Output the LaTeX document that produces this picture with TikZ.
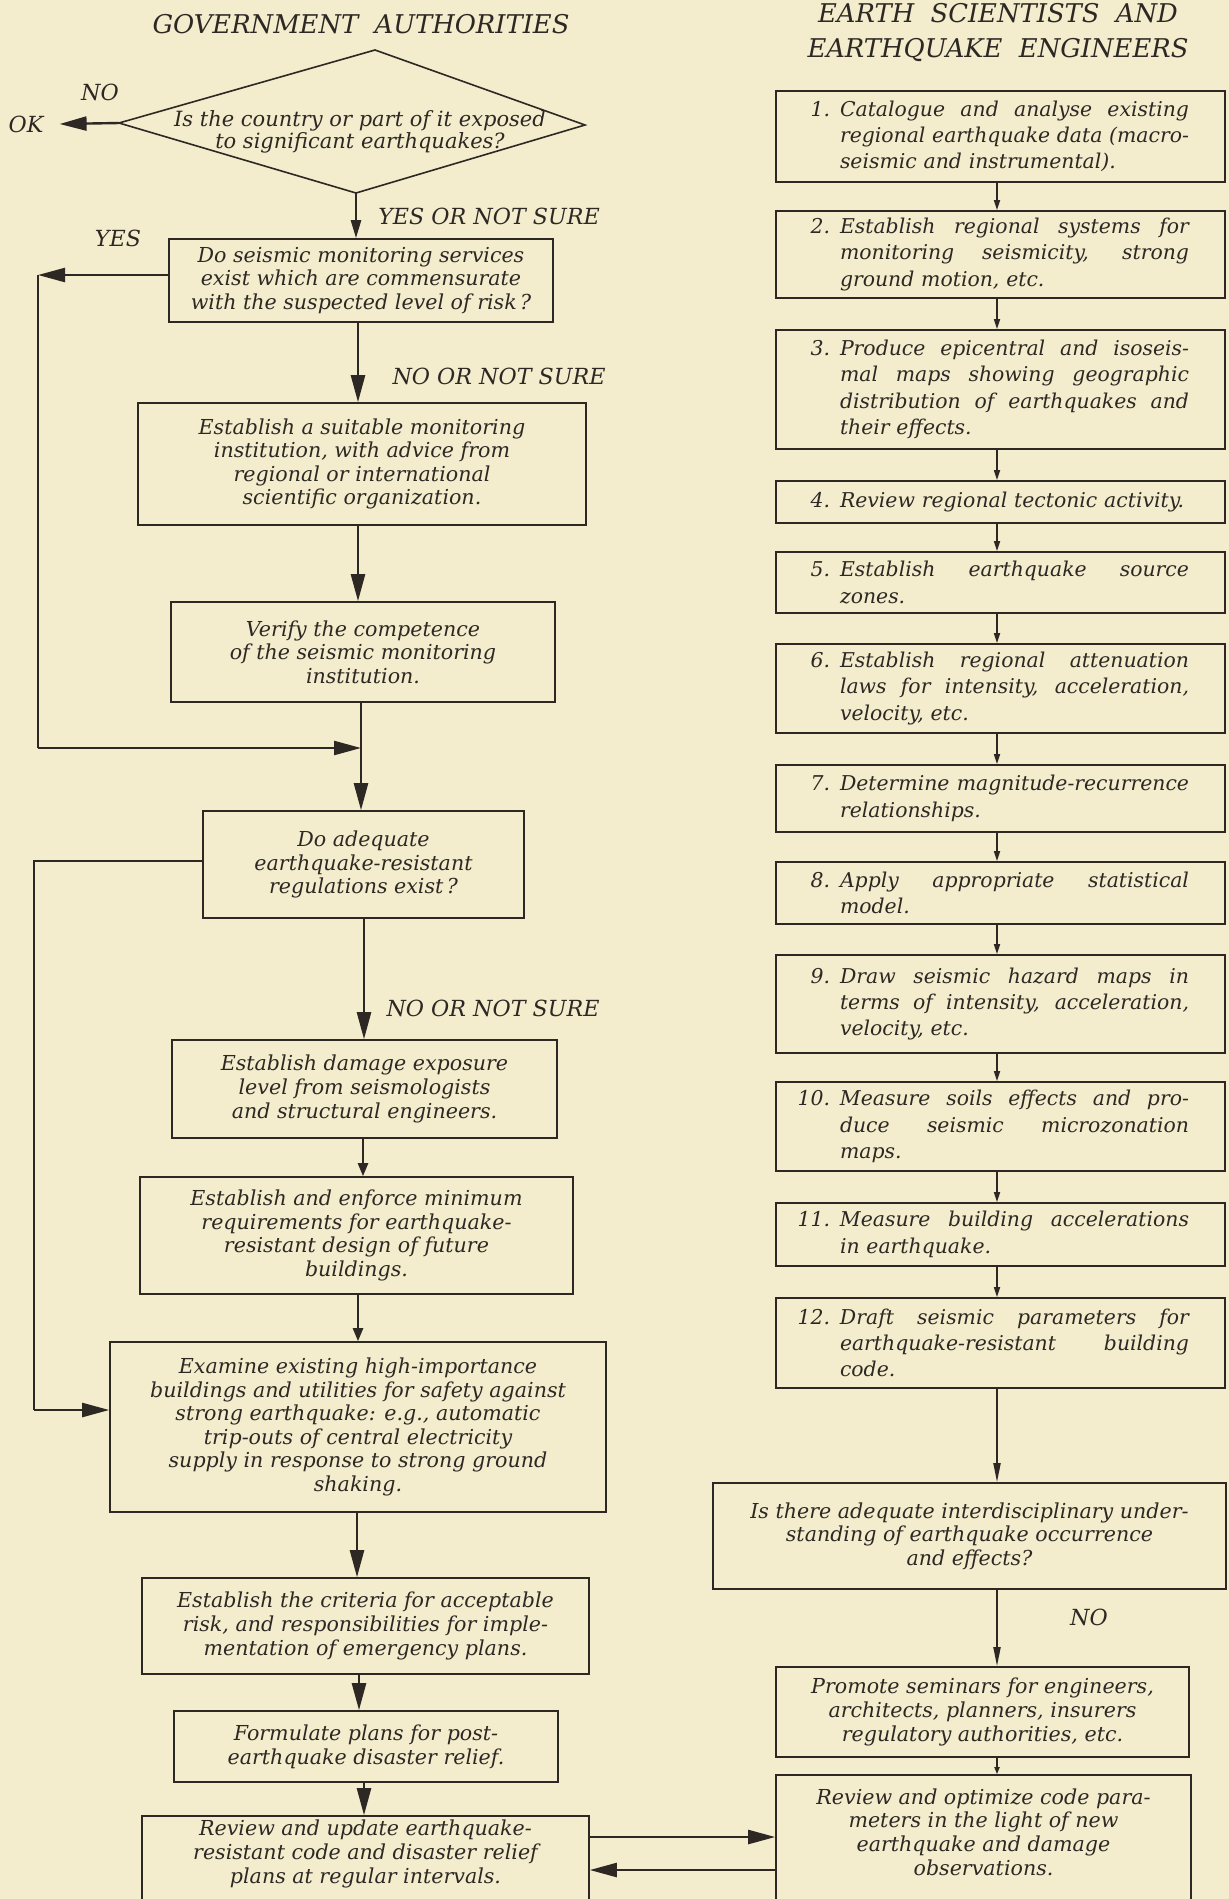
\documentclass[tikz,border=0pt]{standalone}
\usepackage{fontspec}
\setmainfont{DejaVu Serif}
\usetikzlibrary{arrows.meta}
\definecolor{bg}{RGB}{243,237,205}
\definecolor{ink}{RGB}{45,40,36}
\newcommand\myleftfont{\fontsize{20.6}{23.6}\selectfont\itshape}
\newcommand\mydiafont{\fontsize{21}{22}\selectfont\itshape}
\newcommand\myrightfont{\fontsize{20.4}{26.3}\selectfont\itshape}
\newcommand\mylabfont{\fontsize{22.2}{25}\selectfont\itshape}
\newcommand\mytitfont{\fontsize{25.8}{35}\selectfont\itshape}
\newcommand\jl[1]{\leavevmode\hbox to \linewidth{\spaceskip=0.3em plus 1fil minus 0.1em\relax #1}}
\newcommand\ritem[2]{\makebox[40pt][r]{#1}\hspace{10pt}\parbox[t]{349pt}{#2}}
\newcommand\bx[6]{%
  \pgfmathsetmacro\mybw{#4-#2}\pgfmathsetmacro\mybh{#5-#3}%
  \pgfmathsetmacro\mycx{(#2+#4)/2}\pgfmathsetmacro\mycy{(#3+#5)/2}%
  \node[box,minimum width=\mybw pt,minimum height=\mybh pt] (#1) at (\mycx,\mycy) {#6};}
\newcommand\rbx[5]{%
  \pgfmathsetmacro\mybh{#3-#2}\pgfmathsetmacro\mycy{(#2+#3)/2}%
  \node[rbox,minimum height=\mybh pt] (#1) at (1000.5,\mycy) {\ritem{#4}{#5}};}
\begin{document}
\begin{tikzpicture}[x=1pt,y=-1pt,
  line/.style={draw=ink,line width=2.4pt},
  barr/.style={line,-{Triangle[length=27pt,width=14pt]}},
  marr/.style={line,-{Triangle[length=13pt,width=10pt]}},
  sarr/.style={draw=ink,line width=1.6pt,-{Triangle[length=10pt,width=6pt]}},
  larr/.style={draw=ink,line width=1.8pt,-{Triangle[length=19pt,width=7pt]}},
  box/.style={draw=ink,line width=1.6pt,inner sep=0pt,align=center,font=\myleftfont,text=ink},
  frame/.style={draw=ink,line width=1.6pt,inner sep=0pt},
  lt/.style={inner sep=0pt,align=center,font=\myleftfont,text=ink},
  rbox/.style={draw=ink,line width=1.6pt,inner xsep=14pt,inner ysep=0pt,text width=421pt,align=left,font=\myrightfont,text=ink},
  lbl/.style={inner sep=0pt,font=\mylabfont,text=ink},
  tit/.style={inner sep=0pt,align=center,font=\mytitfont,text=ink}]
\useasboundingbox (0,0) rectangle (1229,1899);
\clip (0,0) rectangle (1229,1899);
\fill[bg] (0,0) rectangle (1229,1899);

% titles
\node[tit] (tga) at (361,24) {GOVERNMENT\ \ AUTHORITIES};
\node[tit] (tes) at (998,32.5) {EARTH\ \ SCIENTISTS\ \ AND\\EARTHQUAKE\ \ ENGINEERS};

% column x positions
\coordinate (x356) at (356,0);
\coordinate (x358) at (358,0);
\coordinate (x361) at (361,0);
\coordinate (x364) at (364,0);
\coordinate (x363) at (363,0);
\coordinate (x357) at (357,0);
\coordinate (x359) at (359,0);
\coordinate (ax) at (997,0);

% diamond
\coordinate (dl) at (119,123);
\coordinate (dt) at (375,50);
\coordinate (dr) at (585,125);
\coordinate (db) at (356,193);
\draw[ink,line width=1.6pt] (dl) -- (dt) -- (dr) -- (db) -- cycle;
\node[lt,font=\mydiafont] (dtext) at (360,132) {Is the country or part of it exposed\\to significant earthquakes?};

\node[lbl] (no1) at (100,92) {NO};
\node[lbl] (ok) at (26,124) {OK};
\node[lbl] (yns) at (489,216) {YES OR NOT SURE};
\node[lbl] (yes) at (118,238) {YES};
\node[lbl] (nns1) at (499,376) {NO OR NOT SURE};
\node[lbl] (nns2) at (493,1008) {NO OR NOT SURE};
\node[lbl] (no2) at (1089,1617) {NO};

% left boxes
\bx{b2}{169}{239}{553}{322}{Do seismic monitoring services\\exist which are commensurate\\with the suspected level of risk\,?}
\bx{b3}{138}{403}{586}{525}{Establish a suitable monitoring\\institution, with advice from\\regional or international\\scientific organization.}
\bx{b4}{171}{602}{555}{702}{Verify the competence\\of the seismic monitoring\\institution.}
\bx{b5}{203}{811}{524}{918}{Do adequate\\earthquake-resistant\\regulations exist\,?}
\bx{b6}{172}{1040}{557}{1138}{Establish damage exposure\\level from seismologists\\and structural engineers.}
\bx{b7}{140}{1177}{573}{1294}{Establish and enforce minimum\\requirements for earthquake-\\resistant design of future\\buildings.}
\bx{b8}{110}{1342}{606}{1512}{Examine existing high-importance\\buildings and utilities for safety against\\strong earthquake: e.g., automatic\\trip-outs of central electricity\\supply in response to strong ground\\shaking.}
\bx{b9}{142}{1578}{589}{1674}{Establish the criteria for acceptable\\risk, and responsibilities for imple-\\mentation of emergency plans.}
\bx{b10}{174}{1711}{558}{1782}{Formulate plans for post-\\earthquake disaster relief.}
\node[frame,minimum width=447pt,minimum height=114pt] (b11) at (365.5,1873) {};
\node[lt] (t11) at (365.5,1854) {Review and update earthquake-\\resistant code and disaster relief\\plans at regular intervals.};

% right boxes
\rbx{r1}{91}{182}{1.}{\jl{Catalogue and analyse existing}\\\jl{regional earthquake data (macro-}\\seismic and instrumental).}
\rbx{r2}{211}{298}{2.}{\jl{Establish regional systems for}\\\jl{monitoring seismicity, strong}\\ground motion, etc.}
\rbx{r3}{330}{449}{3.}{\jl{Produce epicentral and isoseis-}\\\jl{mal maps showing geographic}\\\jl{distribution of earthquakes and}\\their effects.}
\rbx{r4}{481}{523}{4.}{Review regional tectonic activity.}
\rbx{r5}{552}{613}{5.}{\jl{Establish earthquake source}\\zones.}
\rbx{r6}{644}{733}{6.}{\jl{Establish regional attenuation}\\\jl{laws for intensity, acceleration,}\\velocity, etc.}
\rbx{r7}{765}{832}{7.}{\jl{Determine magnitude-recurrence}\\relationships.}
\rbx{r8}{862}{924}{8.}{\jl{Apply appropriate statistical}\\model.}
\rbx{r9}{955}{1053}{9.}{\jl{Draw seismic hazard maps in}\\\jl{terms of intensity, acceleration,}\\velocity, etc.}
\rbx{r10}{1082}{1171}{10.}{\jl{Measure soils effects and pro-}\\\jl{duce seismic microzonation}\\maps.}
\rbx{r11}{1203}{1266}{11.}{\jl{Measure building accelerations}\\in earthquake.}
\rbx{r12}{1298}{1388}{12.}{\jl{Draft seismic parameters for}\\\jl{earthquake-resistant building}\\code.}
\bx{ri}{713}{1483}{1226}{1589}{Is there adequate interdisciplinary under-\\standing of earthquake occurrence\\and effects?}
\bx{rp}{776}{1667}{1189}{1757}{Promote seminars for engineers,\\architects, planners, insurers\\regulatory authorities, etc.}
\node[frame,minimum width=415pt,minimum height=155pt] (ro) at (983.5,1852.5) {};
\node[lt] (tro) at (983.5,1832) {Review and optimize code para-\\meters in the light of new\\earthquake and damage\\observations.};

% left connectors
\draw[barr] (dl) -- ([xshift=16pt]ok.east);
\draw[barr,-{Triangle[length=18pt,width=10pt]}] (db) -- (db |- b2.north);
\draw[barr] (b2.south -| x358) -- (b3.north -| x358);
\draw[barr] (b3.south -| x358) -- (b4.north -| x358);
\draw[barr] (b4.south -| x361) -- (b5.north -| x361);
\draw[barr] (b5.south -| x364) -- (b6.north -| x364);
\draw[marr] (b6.south -| x363) -- (b7.north -| x363);
\draw[marr] (b7.south -| x358) -- (b8.north -| x358);
\draw[barr] (b8.south -| x357) -- (b9.north -| x357);
\draw[barr] (b9.south -| x359) -- (b10.north -| x359);
\draw[barr] (b10.south -| x364) -- (b11.north -| x364);

% loop 1
\coordinate (c1) at (38,275);
\coordinate (c2) at (38,748);
\draw[barr] (b2.west |- c1) -- (c1);
\draw[line] (c1) -- (c2);
\draw[barr] (c2) -- (c2 -| x361);
% loop 2
\coordinate (c3) at (34,861);
\coordinate (c4) at (34,1410);
\draw[line] (b5.west |- c3) -- (c3) -- (c4);
\draw[barr] (c4) -- (b8.west |- c4);

% bottom horizontal arrows
\coordinate (h1) at (0,1837);
\coordinate (h2) at (0,1870);
\draw[barr] (b11.east |- h1) -- (ro.west |- h1);
\draw[barr] (ro.west |- h2) -- (b11.east |- h2);

% right connectors
\draw[sarr] (r1.south -| ax) -- (r2.north -| ax);
\draw[sarr] (r2.south -| ax) -- (r3.north -| ax);
\draw[sarr] (r3.south -| ax) -- (r4.north -| ax);
\draw[sarr] (r4.south -| ax) -- (r5.north -| ax);
\draw[sarr] (r5.south -| ax) -- (r6.north -| ax);
\draw[sarr] (r6.south -| ax) -- (r7.north -| ax);
\draw[sarr] (r7.south -| ax) -- (r8.north -| ax);
\draw[sarr] (r8.south -| ax) -- (r9.north -| ax);
\draw[sarr] (r9.south -| ax) -- (r10.north -| ax);
\draw[sarr] (r10.south -| ax) -- (r11.north -| ax);
\draw[sarr] (r11.south -| ax) -- (r12.north -| ax);
\draw[larr] (r12.south -| ax) -- (ri.north -| ax);
\draw[larr] (ri.south -| ax) -- (rp.north -| ax);
\draw[sarr,-{Triangle[length=7pt,width=5pt]}] (rp.south -| ax) -- (ro.north -| ax);
\end{tikzpicture}
\end{document}
